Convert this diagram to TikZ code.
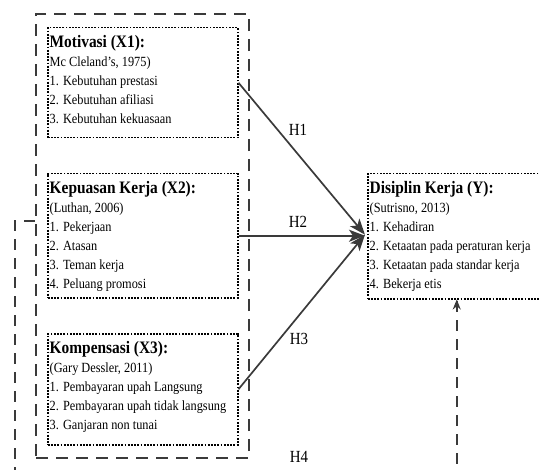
\documentclass[tikz,border=0pt]{standalone}
\usepackage{fontspec}
\setmainfont[FakeStretch=0.88]{Liberation Serif}
\usetikzlibrary{arrows.meta}
\definecolor{ln}{HTML}{3a3a3a}
\begin{document}
\begin{tikzpicture}[x=1pt,y=-1pt,
  obox/.style={draw=ln, line width=2.2pt, dash pattern=on 12pt off 8pt, inner sep=0pt, anchor=north west},
  ibox/.style={draw=black, line width=1.5pt, dash pattern=on 1.8pt off 1.4pt, inner sep=0pt, anchor=north west},
  ttl/.style={anchor=base west, inner sep=0pt, font=\bfseries\fontsize{17.5}{19}\selectfont},
  bod/.style={anchor=base west, inner sep=0pt, font=\fontsize{14}{19}\selectfont},
  hlab/.style={inner sep=0pt, font=\fontsize{17}{19}\selectfont},
  arr/.style={draw=ln, line width=1.7pt, -{Stealth[length=16pt,width=12pt,inset=4pt]}},
  dline/.style={draw=ln, line width=1.9pt, dash pattern=on 11pt off 8pt}
]
\useasboundingbox (0,0) rectangle (540,470);

% outer dashed frame
\node[obox, minimum width=213pt, minimum height=444pt] (outer) at (35,13) {};

% inner boxes
\node[ibox, minimum width=190pt, minimum height=110pt] (mbox) at (47,27) {};
\node[ibox, minimum width=190pt, minimum height=124pt] (kbox) at (47,173) {};
\node[ibox, minimum width=190pt, minimum height=111pt] (cbox) at (47,333) {};
\node[ibox, minimum width=178pt, minimum height=125pt] (dbox) at (367,173) {};

% Motivasi
\node[ttl] (mt) at (49.5,47.5) {Motivasi (X1):};
\foreach \t [count=\i from 0] in {{Mc Cleland’s, 1975)},{1. Kebutuhan prestasi},{2. Kebutuhan afiliasi},{3. Kebutuhan kekuasaan}}
  \node[bod] (ml\i) at (49.5,66.5+19*\i) {\t};

% Kepuasan
\node[ttl] (kt) at (49.5,193.5) {Kepuasan Kerja (X2):};
\foreach \t [count=\i from 0] in {{(Luthan, 2006)},{1. Pekerjaan},{2. Atasan},{3. Teman kerja},{4. Peluang promosi}}
  \node[bod] (kl\i) at (49.5,212.5+19*\i) {\t};

% Kompensasi
\node[ttl] (ct) at (49.5,353.5) {Kompensasi (X3):};
\foreach \t [count=\i from 0] in {{(Gary Dessler, 2011)},{1. Pembayaran upah Langsung},{2. Pembayaran upah tidak langsung},{3. Ganjaran non tunai}}
  \node[bod] (cl\i) at (49.5,372.5+19*\i) {\t};

% Disiplin
\node[ttl] (dt) at (369.5,193.5) {Disiplin Kerja (Y):};
\foreach \t [count=\i from 0] in {{(Sutrisno, 2013)},{1. Kehadiran},{2. Ketaatan pada peraturan kerja},{3. Ketaatan pada standar kerja},{4. Bekerja etis}}
  \node[bod] (dl\i) at (369.5,212.5+19*\i) {\t};

% arrows
\coordinate (tip) at ([xshift=-2pt,yshift=1.5pt]dbox.west);
\draw[arr] (mbox.east) -- (tip);
\draw[arr] (kbox.east) -- (kbox.east -| tip);
\draw[arr] (cbox.east) -- (tip);

% labels
\node[hlab] (h1) at (298,130) {H1};
\node[hlab] (h2) at (298,222) {H2};
\node[hlab] (h3) at (299,339) {H3};
\node[hlab] (h4) at (299,457) {H4};

% H4 dashed connector
\coordinate (lc) at (outer.west |- 0,221);
\coordinate (lcorner) at (15,221);
\coordinate (bcorner) at (15,520);
\draw[dline] (lc) -- (lcorner) -- (bcorner) -| (dbox.south);
\draw[draw=ln, line width=1.7pt, -{Stealth[length=10pt,width=8pt]}] ([yshift=-12pt]dbox.south) -- (dbox.south);
\end{tikzpicture}
\end{document}
